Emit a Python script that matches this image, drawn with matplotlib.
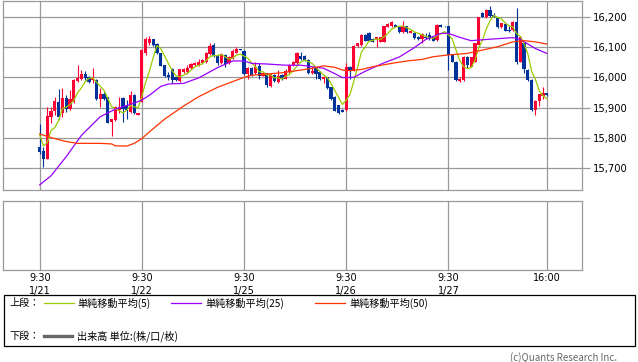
import numpy as np
import matplotlib
matplotlib.use('Agg')
from matplotlib import pyplot as plt
from matplotlib.lines import Line2D
from matplotlib.patches import Rectangle

# 15 minute bars, 27 per day (9:30 .. 16:00)
opens = [15771, 15758, 15731, 15870, 15889, 15920, 15881, 15933, 15894, 15920, 15988, 15993, 16011, 16000, 15991, 15991, 15929, 15945, 15934, 15853, 15859, 15892, 15933, 15905, 15887, 15942, 15875,
         15920, 16079, 16114, 16126, 16109, 16079, 16040, 16007, 16026, 16000, 15988, 16018, 16018, 16030, 16040, 16040, 16046, 16051, 16077, 16106, 16073, 16046, 16073, 16046, 16062, 16081, 16092,
         16088, 16011, 16032, 16013, 16037, 16006, 16013, 15971, 16007, 15985, 16007, 15996, 16018, 16040, 16046, 16070, 16070, 16057, 16015, 16030, 16018, 15993, 16000, 15967, 15936, 15908, 15892,
         15892, 16035, 16024, 16103, 16106, 16140, 16147, 16128, 16123, 16117, 16117, 16167, 16169, 16173, 16165, 16150, 16169, 16147, 16148, 16134, 16125, 16134, 16140, 16132, 16123, 16173, 16170,
         16169, 16074, 16052, 15989, 15991, 16068, 16035, 16052, 16106, 16213, 16198, 16222, 16206, 16197, 16165, 16176, 16156, 16156, 16184, 16052, 16112, 16024, 15991, 15892, 15923, 15939, 15947]
highs = [15846, 15771, 15903, 15903, 15934, 15960, 15964, 15942, 15958, 15994, 16040, 16024, 16022, 16004, 16030, 15993, 15966, 15953, 15936, 15864, 15905, 15936, 15936, 15925, 15956, 15944, 15883,
         16092, 16134, 16136, 16128, 16114, 16081, 16042, 16018, 16030, 16004, 16028, 16030, 16040, 16046, 16050, 16060, 16060, 16085, 16112, 16112, 16076, 16081, 16076, 16070, 16092, 16101, 16093,
         16090, 16033, 16034, 16052, 16048, 16018, 16015, 16015, 16010, 16024, 16010, 16028, 16044, 16055, 16085, 16085, 16073, 16059, 16035, 16035, 16020, 16004, 16002, 15969, 15938, 15910, 15894,
         16046, 16037, 16106, 16114, 16142, 16142, 16151, 16131, 16134, 16134, 16171, 16178, 16186, 16175, 16167, 16186, 16171, 16155, 16150, 16136, 16147, 16148, 16151, 16134, 16176, 16175, 16171,
         16171, 16076, 16054, 16002, 16070, 16070, 16068, 16114, 16200, 16217, 16224, 16235, 16211, 16199, 16180, 16178, 16169, 16186, 16228, 16136, 16114, 16026, 15993, 15925, 15946, 15967, 15949]
lows = [15746, 15705, 15729, 15848, 15875, 15861, 15870, 15886, 15892, 15914, 15985, 15991, 15991, 15982, 15980, 15925, 15901, 15925, 15848, 15806, 15857, 15881, 15854, 15864, 15883, 15879, 15875,
        15917, 16073, 16107, 16105, 16077, 16036, 16002, 15991, 15982, 15988, 15985, 16015, 16011, 16027, 16036, 16036, 16043, 16048, 16073, 16066, 16040, 16043, 16035, 16043, 16059, 16079, 16089,
        16009, 15993, 16004, 16011, 15996, 16004, 15967, 15967, 15985, 15980, 15990, 15993, 16015, 16038, 16044, 16057, 16055, 16011, 16011, 15993, 15990, 15982, 15960, 15925, 15888, 15879, 15885,
        15890, 15993, 16022, 16101, 16104, 16119, 16119, 16115, 16101, 16115, 16115, 16165, 16167, 16165, 16148, 16148, 16148, 16145, 16127, 16124, 16112, 16126, 16123, 16119, 16121, 16165, 16167,
        16024, 16050, 15989, 15985, 15989, 16030, 16033, 16050, 16104, 16198, 16196, 16200, 16198, 16163, 16163, 16152, 16150, 16154, 16044, 16050, 16013, 15989, 15890, 15876, 15905, 15927, 15940]
closes = [15755, 15731, 15872, 15889, 15923, 15870, 15933, 15894, 15930, 15991, 15999, 16011, 15997, 15985, 15999, 15928, 15945, 15929, 15850, 15862, 15903, 15903, 15897, 15892, 15942, 15881, 15883,
          16090, 16125, 16125, 16107, 16079, 16038, 16004, 16000, 15991, 15991, 16026, 16028, 16030, 16043, 16046, 16051, 16057, 16081, 16103, 16070, 16046, 16076, 16043, 16066, 16088, 16095, 16090,
          16011, 16032, 16007, 16035, 16004, 16015, 15975, 16011, 15988, 16004, 15993, 16022, 16040, 16051, 16079, 16059, 16057, 16013, 16022, 16011, 15994, 16002, 15964, 15928, 15890, 15883, 15887,
          16035, 16024, 16104, 16112, 16140, 16121, 16121, 16117, 16132, 16132, 16169, 16175, 16184, 16167, 16150, 16169, 16150, 16153, 16129, 16126, 16143, 16129, 16125, 16121, 16173, 16167, 16168,
          16074, 16052, 15991, 15993, 16068, 16040, 16066, 16112, 16198, 16200, 16222, 16202, 16200, 16165, 16178, 16154, 16153, 16184, 16052, 16134, 16026, 15991, 15892, 15923, 15944, 15947, 15942]

# first four SMA5 points need earlier bars
sma5_head = [15810, 15773, 15785, 15825]

# SMA25 / SMA50 at bar index
ma25_x = [0, 3, 7, 11, 16, 20, 25, 27, 29, 32, 34, 38, 42, 47, 51, 54, 56, 60, 65, 69, 72, 75, 78, 80, 83, 86, 91, 95, 99, 102, 106, 108, 111, 114, 118, 125, 127, 129, 131, 134]
ma25_y = [15645, 15675, 15738, 15808, 15870, 15895, 15915, 15925, 15941, 15970, 15978, 15980, 15998, 16032, 16054, 16054, 16046, 16044, 16040, 16040, 16035, 16030, 16012, 15999, 16000, 16020, 16048, 16067, 16098, 16125, 16145, 16145, 16132, 16121, 16125, 16131, 16125, 16110, 16095, 16079]
ma50_x = [0, 3, 7, 10, 16, 19, 20, 23, 25, 27, 29, 33, 38, 42, 47, 51, 54, 56, 60, 64, 69, 72, 75, 78, 80, 82, 85, 88, 93, 97, 101, 104, 108, 113, 117, 121, 125, 128, 131, 134]
ma50_y = [15813, 15801, 15788, 15782, 15782, 15780, 15774, 15773, 15782, 15798, 15820, 15862, 15905, 15936, 15967, 15986, 16000, 16007, 16011, 16015, 16024, 16030, 16038, 16033, 16024, 16022, 16026, 16035, 16046, 16054, 16059, 16068, 16074, 16079, 16090, 16101, 16117, 16121, 16117, 16110]

tick_pos = [0, 27, 54, 81, 108, 134]
tick_labels = ['9:30\n1/21', '9:30\n1/22', '9:30\n1/25', '9:30\n1/26', '9:30\n1/27', '16:00']
yticks = [15700, 15800, 15900, 16000, 16100, 16200]

W, H = 638, 362
def fx(x): return x / W
def fy(y): return 1 - y / H

plt.rcParams['font.family'] = ['Noto Sans CJK JP', 'DejaVu Sans']
grid_c = '#9a9a9a'

fig = plt.figure(figsize=(W / 100, H / 100), dpi=100)
ax = fig.add_axes([fx(3), fy(190), fx(582) - fx(3), fy(1) - fy(190)])
ax2 = fig.add_axes([fx(3), fy(270), fx(582) - fx(3), fy(201) - fy(270)])

o = np.array(opens); h = np.array(highs); l = np.array(lows); c = np.array(closes)
x = np.arange(len(c))
up = c >= o
col = np.where(up, '#ff0033', '#003399')
ax.vlines(x, l, h, colors=col, linewidth=0.8, zorder=3)
body = np.maximum(np.abs(c - o), 3)
ax.bar(x, body, bottom=np.minimum(o, c), width=0.85, color=col, linewidth=0, zorder=4)

sma5 = np.convolve(c, np.ones(5) / 5, mode='valid')
sma5 = np.concatenate([sma5_head, sma5])
ax.plot(x, sma5, color='#99cc00', linewidth=0.9, zorder=5)
ax.plot(ma25_x, ma25_y, color='#9900ff', linewidth=0.9, zorder=5)
ax.plot(ma50_x, ma50_y, color='#ff3300', linewidth=0.9, zorder=5)

for a in (ax, ax2):
    a.set_xlim(-9.7, 143.3)
    for s in a.spines.values():
        s.set_color(grid_c)
        s.set_linewidth(0.9)
    for t in tick_pos:
        a.axvline(t, color=grid_c, linewidth=0.9, zorder=1)

ax.set_ylim(15628, 16252)
for v in yticks:
    ax.axhline(v, color=grid_c, linewidth=0.9, zorder=1)
ax.set_xticks([])
ax.yaxis.tick_right()
ax.set_yticks(yticks)
ax.set_yticklabels(['{:,}'.format(v) for v in yticks], family='DejaVu Sans')
ax.tick_params(axis='y', length=5.5, width=0.9, color=grid_c, labelsize=7.2, pad=2)

ax2.set_yticks([])
ax2.set_xticks(tick_pos)
ax2.set_xticklabels(tick_labels, family='DejaVu Sans', linespacing=1.35)
ax2.tick_params(axis='x', length=0, labelsize=7, pad=2)

# legend box
fig.add_artist(Rectangle((fx(3.5), fy(346)), fx(635) - fx(3.5), fy(295) - fy(346),
                         transform=fig.transFigure, fill=False, edgecolor='black', linewidth=0.9))
fs = 7.3
fig.text(fx(9), fy(303), '上段：', fontsize=fs, va='center')
fig.text(fx(9), fy(336), '下段：', fontsize=fs, va='center')
items = [(43.5, '#99cc00', '単純移動平均(5)'), (171, '#9900ff', '単純移動平均(25)'), (315, '#ff3300', '単純移動平均(50)')]
for x0, cc, txt in items:
    fig.add_artist(Line2D([fx(x0), fx(x0 + 30)], [fy(303), fy(303)], color=cc, linewidth=0.9))
    fig.text(fx(x0 + 34), fy(303), txt, fontsize=fs, va='center')
fig.add_artist(Line2D([fx(43.5), fx(72)], [fy(336), fy(336)], color='#666666', linewidth=2.4))
fig.text(fx(77), fy(336), '出来高 単位:(株/口/枚)', fontsize=fs, va='center')

fig.text(fx(617), fy(358), '(c)Quants Research Inc.', fontsize=7, color='#666666', ha='right', va='center')

fig.savefig('out.png', dpi=100)
